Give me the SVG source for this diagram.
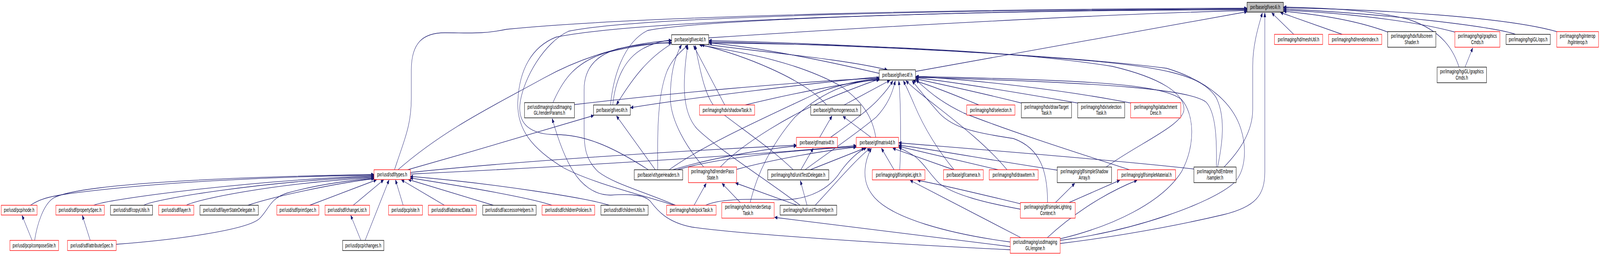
<svg xmlns="http://www.w3.org/2000/svg" width="6473" height="656" viewBox="0 0 6473 656" preserveAspectRatio="none">
<style>
svg{width:100vw;height:100vh}
.n rect{fill:#fff;stroke:#000;stroke-width:1.4}
.r rect{stroke:#ff0000}
.root rect{fill:#bfbfbf}
text{font-family:"Liberation Sans",Arial,sans-serif;font-size:14.5px;text-anchor:middle;fill:#000}
#edges path{fill:none;stroke:#191970;stroke-width:1.3;marker-end:url(#a)}
</style>
<defs>
<marker id="a" markerWidth="11" markerHeight="9" refX="11" refY="4.5" orient="auto" markerUnits="userSpaceOnUse"><path d="M0,0 L11,4.5 L0,9 z" fill="#191970" stroke="#191970" stroke-width="1"/></marker>
</defs>
<rect width="6473" height="656" fill="#fff"/>
<g id="edges">
<path d="M123,526 C160,510 200,504 260,498 C600,468 1100,452 1513,449"/>
<path d="M140,616 C150,575 175,525 215,508 C300,475 800,455 1513,447"/>
<path d="M379,526 C420,512 1000,462 1513,451"/>
<path d="M582,526 C620,511 1050,465 1513,453"/>
<path d="M754,526 C790,512 1100,470 1513,455"/>
<path d="M1003,526 C1100,505 1350,470 1513,458"/>
<path d="M470,626 C700,615 1000,590 1050,560 C1090,535 1090,510 1160,495 C1300,470 1450,460 1513,457"/>
<path d="M1253,526 L1523,461"/>
<path d="M1429,526 L1552,461"/>
<path d="M1477,616 L1574,461"/>
<path d="M1631,526 L1600,461"/>
<path d="M1798,526 L1624,461"/>
<path d="M1996,526 L1652,460"/>
<path d="M2233,526 C2150,508 1900,480 1660,456"/>
<path d="M2465,526 C2380,508 2000,470 1660,452"/>
<path d="M130,616 L89,552"/>
<path d="M365,616 L333,552"/>
<path d="M1460,616 L1419,552"/>
<path d="M1596,435 C1640,350 1664,320 1664,250 L1664,180 C1664,110 1710,84 1800,84 C1900,84 1950,88 2050,75 C2600,40 4000,22 5045,21"/>
<path d="M1610,435 C1800,330 2000,270 2200,200 C2400,130 2600,108 2717,104"/>
<path d="M1649,435 C1900,390 2200,335 2402,296"/>
<path d="M1660,442 C2100,412 2800,385 3222,372"/>
<path d="M1660,446 C2200,430 3000,400 3464,373"/>
<path d="M2651,435 L2494,297"/>
<path d="M2661,435 C2661,360 2655,250 2700,180 C2730,140 2770,125 2783,115"/>
<path d="M2623,435 C2500,385 2380,345 2250,345 C2150,345 2090,320 2105,260 C2120,200 2200,110 2300,80 C2600,40 4000,24 5045,23"/>
<path d="M2722,435 C2850,410 3050,385 3222,374"/>
<path d="M2740,435 C2900,405 3200,385 3464,376"/>
<path d="M2707,435 C2850,370 3100,300 3300,240 C3400,215 3500,204 3557,201"/>
<path d="M2847,428 C2780,380 2712,310 2712,250 C2712,180 2735,140 2757,115"/>
<path d="M2914,428 C3000,370 3200,290 3400,240 C3480,220 3530,208 3557,203"/>
<path d="M2980,434 C3150,405 3350,385 3464,377"/>
<path d="M2995,519 L2921,470"/>
<path d="M3035,519 C3060,450 3120,370 3216,300 C3350,220 3480,206 3558,205"/>
<path d="M2808,526 L2857,470"/>
<path d="M2733,526 C2600,490 2480,470 2420,440 C2370,410 2363,380 2363,330 L2363,230 C2363,170 2420,140 2500,125 C2600,112 2660,110 2717,110"/>
<path d="M2855,526 C2900,512 3000,508 3150,512 C3280,514 3360,480 3400,440 C3440,405 3480,385 3505,379"/>
<path d="M2727,526 C2600,500 2400,470 2280,430 C2150,380 2090,330 2095,260 C2100,180 2150,120 2250,95 C2600,50 4000,26 5045,25"/>
<path d="M3265,526 L3238,463"/>
<path d="M3225,526 L2976,469"/>
<path d="M3298,526 C3380,470 3460,410 3520,380"/>
<path d="M3237,526 C3100,460 2900,380 2820,330 C2770,295 2765,240 2770,190 C2773,150 2780,130 2782,116"/>
<path d="M3240,435 L3290,380"/>
<path d="M3278,435 L3497,380"/>
<path d="M3257,435 C3330,400 3450,350 3545,300 C3590,270 3610,240 3622,207"/>
<path d="M3209,435 C3120,380 3000,330 2900,280 C2850,250 2830,170 2812,116"/>
<path d="M3617,435 L3566,380"/>
<path d="M3640,435 C3645,380 3645,260 3636,207"/>
<path d="M3858,435 L3612,380"/>
<path d="M3860,435 C3800,390 3740,330 3700,270 C3680,240 3665,220 3655,207"/>
<path d="M4038,435 L3636,375"/>
<path d="M4074,435 C3950,340 3750,260 3665,207"/>
<path d="M4277,436 C4000,410 3800,385 3636,372"/>
<path d="M4475,428 C4600,370 4790,320 4790,280 C4790,240 4700,200 4500,170 C4000,120 3200,112 2868,110"/>
<path d="M4570,435 C4400,400 4100,340 3900,290 C3800,260 3750,230 3706,205"/>
<path d="M4952,428 C5010,390 5068,340 5068,280 L5068,170 C5068,110 5095,60 5107,33"/>
<path d="M4921,428 C4923,360 4920,290 4880,262 C4820,230 4500,212 3705,198"/>
<path d="M4926,428 C4945,370 4960,300 4920,250 C4860,190 4700,170 4300,150 C3800,125 3200,112 2868,107"/>
<path d="M4830,433 C4500,410 4000,385 3636,366"/>
<path d="M4128,522 C3950,495 3800,472 3712,462"/>
<path d="M4128,536 C3990,520 3860,500 3800,470 C3760,445 3740,420 3700,400 C3670,388 3650,382 3636,378"/>
<path d="M4270,519 L4348,470"/>
<path d="M4325,519 L4530,462"/>
<path d="M4238,519 C4238,440 4210,380 4100,355 C3950,340 3860,330 3800,290 C3750,255 3720,230 3690,207"/>
<path d="M4130,609 L3682,462"/>
<path d="M4237,609 C4320,560 4450,500 4600,462"/>
<path d="M4086,620 C3850,600 3600,560 3530,500 C3480,460 3500,410 3525,380"/>
<path d="M4087,632 C3700,600 3300,570 3134,557"/>
<path d="M4087,640 C3600,625 3000,600 2800,582 C2700,570 2660,540 2630,515 C2600,495 2520,498 2470,500 C2400,500 2350,470 2320,440 C2280,400 2250,340 2234,304"/>
<path d="M4289,624 C4600,600 4850,565 4950,550 C5080,530 5117,500 5117,440 L5117,33"/>
<path d="M4289,612 C4500,580 4700,520 4780,440 C4840,370 4830,290 4780,255 C4700,215 4400,205 3706,196"/>
<path d="M4289,616 C4600,590 4900,520 4990,470 C5040,440 5045,380 5020,330 C4990,270 4900,210 4720,175 C4300,140 3300,110 2868,104"/>
<path d="M2237,263 C2280,200 2330,160 2450,135 C2580,115 2660,110 2716,109"/>
<path d="M2324,268 C2700,240 3200,210 3557,200"/>
<path d="M2932,269 L2806,117"/>
<path d="M3015,269 C3200,240 3450,210 3557,203"/>
<path d="M3960,269 C3850,240 3750,215 3694,206"/>
<path d="M4132,264 C3950,235 3800,215 3705,202"/>
<path d="M4360,264 C4100,235 3850,210 3705,199"/>
<path d="M4575,264 C4300,230 3950,205 3705,196"/>
<path d="M3344,269 C3250,200 3000,140 2838,115"/>
<path d="M3415,269 L3600,206"/>
<path d="M3316,352 L3366,297"/>
<path d="M3524,352 L3410,298"/>
<path d="M3360,352 C3430,320 3520,280 3560,250 C3590,230 3605,215 3612,207"/>
<path d="M3543,352 C3530,300 3490,260 3400,220 C3200,150 2950,130 2830,115"/>
<path d="M2470,269 C2480,200 2520,110 2620,78 C2900,45 4200,25 5045,23"/>
<path d="M2867,97 C3500,70 4500,35 5045,27"/>
<path d="M3704,183 L5045,30"/>
<path d="M2860,114 C3100,135 3400,150 3590,179"/>
<path d="M3557,188 C3300,150 3050,120 2868,110"/>
<path d="M3557,197 C3300,212 2800,250 2551,276"/>
<path d="M2715,113 C2620,150 2560,200 2494,268"/>
<path d="M2479,269 C2490,200 2530,150 2600,125 C2650,108 2690,104 2716,103"/>
<path d="M5234,88 L5145,33"/>
<path d="M5430,88 L5180,32"/>
<path d="M5614,82 C5500,55 5350,38 5193,29"/>
<path d="M5885,82 C5700,50 5400,32 5193,26"/>
<path d="M6131,88 C6050,68 5600,35 5193,23"/>
<path d="M6298,81 C6100,45 5600,24 5193,20"/>
<path d="M5903,172 C5880,130 5840,80 5700,50 C5550,25 5350,20 5193,18"/>
<path d="M5927,172 L5958,123"/>
</g>
<g id="n-vec4i" class="n root"><rect x="5045" y="6" width="147" height="25"/><text x="5118.5" y="23.5">pxr/base/gf/vec4i.h</text></g>
<g id="n-vec4d" class="n"><rect x="2717" y="89" width="150" height="25"/><text x="2792" y="106.5">pxr/base/gf/vec4d.h</text></g>
<g id="n-meshUtil" class="n r"><rect x="5156" y="88" width="195" height="26"/><text x="5253.5" y="106">pxr/imaging/hd/meshUtil.h</text></g>
<g id="n-renderIndex" class="n r"><rect x="5375" y="88" width="215" height="26"/><text x="5482.5" y="106">pxr/imaging/hd/renderIndex.h</text></g>
<g id="n-fullscreenShader" class="n"><rect x="5614" y="81" width="195" height="40"/><text x="5711.5" y="97.5">pxr/imaging/hdx/fullscreen</text><text x="5711.5" y="113">Shader.h</text></g>
<g id="n-hgiGraphicsCmds" class="n r"><rect x="5886" y="81" width="182" height="40"/><text x="5977" y="97.5">pxr/imaging/hgi/graphics</text><text x="5977" y="113">Cmds.h</text></g>
<g id="n-hgiGLops" class="n"><rect x="6093" y="88" width="179" height="26"/><text x="6182.5" y="106">pxr/imaging/hgiGL/ops.h</text></g>
<g id="n-hgiInterop" class="n r"><rect x="6298" y="81" width="169" height="40"/><text x="6382.5" y="97.5">pxr/imaging/hgiInterop</text><text x="6382.5" y="113">/hgiInterop.h</text></g>
<g id="n-vec4f" class="n"><rect x="3557" y="179" width="147" height="26"/><text x="3630.5" y="197">pxr/base/gf/vec4f.h</text></g>
<g id="n-hgiGLgraphicsCmds" class="n"><rect x="5814" y="172" width="200" height="40"/><text x="5914" y="188.5">pxr/imaging/hgiGL/graphics</text><text x="5914" y="204">Cmds.h</text></g>
<g id="n-renderParams" class="n"><rect x="2122" y="263" width="202" height="39"/><text x="2223" y="279">pxr/usdImaging/usdImaging</text><text x="2223" y="294.5">GL/renderParams.h</text></g>
<g id="n-vec4h" class="n"><rect x="2401" y="269" width="149" height="26"/><text x="2475.5" y="287">pxr/base/gf/vec4h.h</text></g>
<g id="n-shadowTask" class="n r"><rect x="2830" y="269" width="223" height="26"/><text x="2941.5" y="287">pxr/imaging/hdx/shadowTask.h</text></g>
<g id="n-homogeneous" class="n"><rect x="3280" y="269" width="202" height="26"/><text x="3381" y="287">pxr/base/gf/homogeneous.h</text></g>
<g id="n-selection" class="n r"><rect x="3911" y="269" width="195" height="26"/><text x="4008.5" y="287">pxr/imaging/hd/selection.h</text></g>
<g id="n-drawTargetTask" class="n"><rect x="4132" y="263" width="203" height="39"/><text x="4233.5" y="279">pxr/imaging/hdx/drawTarget</text><text x="4233.5" y="294.5">Task.h</text></g>
<g id="n-selectionTask" class="n"><rect x="4360" y="263" width="190" height="39"/><text x="4455" y="279">pxr/imaging/hdx/selection</text><text x="4455" y="294.5">Task.h</text></g>
<g id="n-attachmentDesc" class="n r"><rect x="4574" y="263" width="203" height="39"/><text x="4675.5" y="279">pxr/imaging/hgi/attachment</text><text x="4675.5" y="294.5">Desc.h</text></g>
<g id="n-matrix4f" class="n r"><rect x="3222" y="352" width="166" height="26"/><text x="3305" y="370">pxr/base/gf/matrix4f.h</text></g>
<g id="n-matrix4d" class="n r"><rect x="3464" y="352" width="171" height="26"/><text x="3549.5" y="370">pxr/base/gf/matrix4d.h</text></g>
<g id="n-types" class="n r"><rect x="1513" y="435" width="147" height="25"/><text x="1586.5" y="452.5">pxr/usd/sdf/types.h</text></g>
<g id="n-typeHeaders" class="n"><rect x="2566" y="435" width="196" height="26"/><text x="2664" y="453">pxr/base/vt/typeHeaders.h</text></g>
<g id="n-renderPassState" class="n r"><rect x="2785" y="428" width="195" height="40"/><text x="2882.5" y="444.5">pxr/imaging/hd/renderPass</text><text x="2882.5" y="460">State.h</text></g>
<g id="n-unitTestDelegate" class="n"><rect x="3106" y="435" width="247" height="26"/><text x="3229.5" y="453">pxr/imaging/hd/unitTestDelegate.h</text></g>
<g id="n-simpleLight" class="n r"><rect x="3529" y="435" width="213" height="26"/><text x="3635.5" y="453">pxr/imaging/glf/simpleLight.h</text></g>
<g id="n-camera" class="n r"><rect x="3817" y="435" width="161" height="26"/><text x="3897.5" y="453">pxr/base/gf/camera.h</text></g>
<g id="n-drawItem" class="n r"><rect x="4002" y="435" width="198" height="26"/><text x="4101" y="453">pxr/imaging/hd/drawItem.h</text></g>
<g id="n-simpleShadowArray" class="n"><rect x="4277" y="428" width="220" height="40"/><text x="4387" y="444.5">pxr/imaging/glf/simpleShadow</text><text x="4387" y="460">Array.h</text></g>
<g id="n-simpleMaterial" class="n r"><rect x="4521" y="435" width="235" height="26"/><text x="4638.5" y="453">pxr/imaging/glf/simpleMaterial.h</text></g>
<g id="n-sampler" class="n"><rect x="4830" y="428" width="171" height="40"/><text x="4915.5" y="444.5">pxr/imaging/hdEmbree</text><text x="4915.5" y="460">/sampler.h</text></g>
<g id="n-node" class="n r"><rect x="5" y="526" width="145" height="25"/><text x="77.5" y="543.5">pxr/usd/pcp/node.h</text></g>
<g id="n-propertySpec" class="n r"><rect x="226" y="526" width="196" height="25"/><text x="324" y="543.5">pxr/usd/sdf/propertySpec.h</text></g>
<g id="n-copyUtils" class="n"><rect x="447" y="526" width="170" height="25"/><text x="532" y="543.5">pxr/usd/sdf/copyUtils.h</text></g>
<g id="n-layer" class="n r"><rect x="642" y="526" width="142" height="25"/><text x="713" y="543.5">pxr/usd/sdf/layer.h</text></g>
<g id="n-layerStateDelegate" class="n"><rect x="809" y="526" width="236" height="25"/><text x="927" y="543.5">pxr/usd/sdf/layerStateDelegate.h</text></g>
<g id="n-primSpec" class="n r"><rect x="1120" y="526" width="170" height="25"/><text x="1205" y="543.5">pxr/usd/sdf/primSpec.h</text></g>
<g id="n-changeList" class="n r"><rect x="1315" y="526" width="180" height="25"/><text x="1405" y="543.5">pxr/usd/sdf/changeList.h</text></g>
<g id="n-site" class="n r"><rect x="1572" y="526" width="137" height="25"/><text x="1640.5" y="543.5">pxr/usd/pcp/site.h</text></g>
<g id="n-abstractData" class="n r"><rect x="1733" y="526" width="194" height="25"/><text x="1830" y="543.5">pxr/usd/sdf/abstractData.h</text></g>
<g id="n-accessorHelpers" class="n"><rect x="1953" y="526" width="216" height="25"/><text x="2061" y="543.5">pxr/usd/sdf/accessorHelpers.h</text></g>
<g id="n-childrenPolicies" class="n r"><rect x="2193" y="526" width="213" height="25"/><text x="2299.5" y="543.5">pxr/usd/sdf/childrenPolicies.h</text></g>
<g id="n-childrenUtils" class="n"><rect x="2431" y="526" width="191" height="25"/><text x="2526.5" y="543.5">pxr/usd/sdf/childrenUtils.h</text></g>
<g id="n-pickTask" class="n r"><rect x="2697" y="526" width="200" height="25"/><text x="2797" y="543.5">pxr/imaging/hdx/pickTask.h</text></g>
<g id="n-renderSetupTask" class="n r"><rect x="2920" y="519" width="212" height="40"/><text x="3026" y="535.5">pxr/imaging/hdx/renderSetup</text><text x="3026" y="551">Task.h</text></g>
<g id="n-unitTestHelper" class="n"><rect x="3156" y="526" width="229" height="25"/><text x="3270.5" y="543.5">pxr/imaging/hd/unitTestHelper.h</text></g>
<g id="n-simpleLightingContext" class="n r"><rect x="4128" y="519" width="222" height="40"/><text x="4239" y="535.5">pxr/imaging/glf/simpleLighting</text><text x="4239" y="551">Context.h</text></g>
<g id="n-composeSite" class="n r"><rect x="40" y="616" width="197" height="26"/><text x="138.5" y="634">pxr/usd/pcp/composeSite.h</text></g>
<g id="n-attributeSpec" class="n r"><rect x="273" y="616" width="197" height="26"/><text x="371.5" y="634">pxr/usd/sdf/attributeSpec.h</text></g>
<g id="n-changes" class="n"><rect x="1386" y="616" width="167" height="26"/><text x="1469.5" y="634">pxr/usd/pcp/changes.h</text></g>
<g id="n-engine" class="n r"><rect x="4087" y="609" width="202" height="40"/><text x="4188" y="625.5">pxr/usdImaging/usdImaging</text><text x="4188" y="641">GL/engine.h</text></g>
</svg>
